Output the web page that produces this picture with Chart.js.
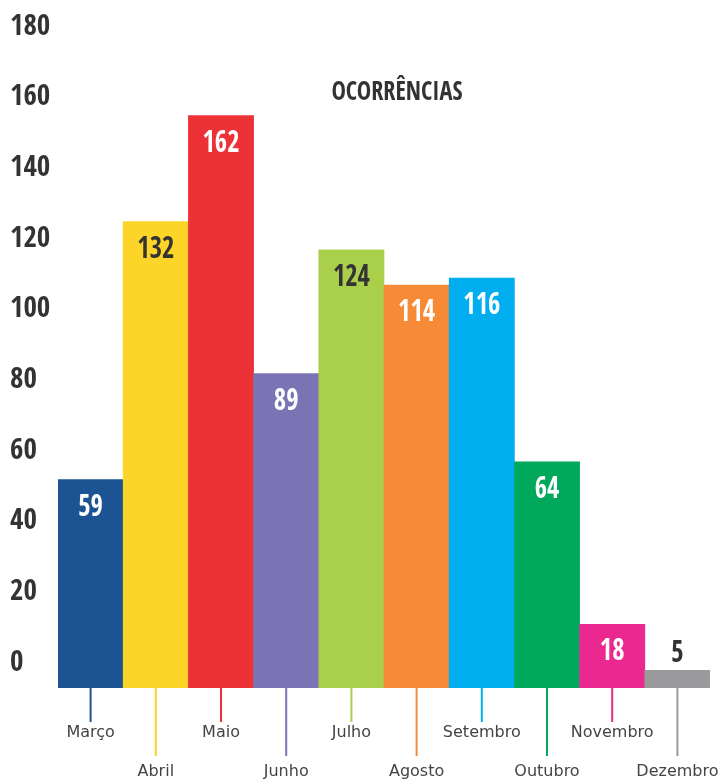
<!DOCTYPE html>
<html>
<head>
<meta charset="utf-8">
<script src="https://cdn.jsdelivr.net/npm/chart.js@4/dist/chart.umd.min.js"></script>
<style>
  html, body { margin: 0; padding: 0; background: #fff; overflow: hidden; }
  #wrap { width: 719px; height: 780px; position: relative; }
  #c { display: block; }
</style>
</head>
<body>
<div id="wrap"><canvas id="c"></canvas></div>
<script>
const categories = ['Março','Abril','Maio','Junho','Julho','Agosto','Setembro','Outubro','Novembro','Dezembro'];
const values = [59, 132, 162, 89, 124, 114, 116, 64, 18, 5];
const barColors = ['#1B5393','#FDD428','#EC3237','#7B74B4','#AACF4A','#F68A36','#00AEEF','#00A85B','#EB2890','#9A9A9C'];
const valueLabelColors = ['#fff','#333','#fff','#fff','#333','#fff','#fff','#fff','#fff','#333'];
const yTickValues = [0, 20, 40, 60, 80, 100, 120, 140, 160, 180];
const chartTitle = 'OCORRÊNCIAS';

const condensed = "'Open Sans Condensed', 'Roboto Condensed', 'DejaVu Sans Condensed', sans-serif";

function drawCondensed(ctx, text, x, y, size, color, sx) {
  ctx.save();
  ctx.font = 'bold ' + size + 'px ' + condensed;
  ctx.fillStyle = color;
  ctx.textAlign = 'center';
  ctx.textBaseline = 'middle';
  ctx.translate(x, y);
  ctx.scale(sx, 1);
  ctx.fillText(text, 0, 0);
  ctx.restore();
}

const extras = {
  id: 'extras',
  afterDatasetsDraw(chart) {
    const ctx = chart.ctx;
    const meta = chart.getDatasetMeta(0);
    const xs = chart.scales.x;
    const ys = chart.scales.y;
    const base = ys.getPixelForValue(0);
    categories.forEach((c, i) => {
      const px = xs.getPixelForValue(i);
      ctx.save();
      ctx.strokeStyle = barColors[i];
      ctx.lineWidth = 2;
      ctx.beginPath();
      ctx.moveTo(px, base);
      ctx.lineTo(px, base + (i % 2 ? 68 : 34));
      ctx.stroke();
      ctx.restore();
    });
    meta.data.forEach((bar, i) => {
      const v = values[i];
      let y = bar.y + 28;
      if (v < 10) y = bar.y - 16;
      drawCondensed(ctx, String(v), bar.x, y, 31, valueLabelColors[i], 0.86);
    });
    drawCondensed(ctx, chartTitle, 397, ys.getPixelForValue(168.4), 27, '#333', 0.9);
  }
};

new Chart(document.getElementById('c'), {
  type: 'bar',
  data: {
    labels: categories,
    datasets: [{
      data: values,
      backgroundColor: barColors,
      borderWidth: 0,
      barPercentage: 1,
      categoryPercentage: 1
    }]
  },
  options: {
    responsive: true,
    maintainAspectRatio: false,
    animation: false,
    layout: { padding: { top: 52, right: 9, left: 10, bottom: 0 } },
    plugins: { legend: { display: false }, tooltip: { enabled: false }, title: { display: false } },
    scales: {
      x: {
        grid: { display: false, drawTicks: false },
        border: { display: false },
        ticks: {
          autoSkip: false,
          maxRotation: 0,
          minRotation: 0,
          padding: 25,
          color: '#444',
          font: { family: "'DejaVu Sans', sans-serif", size: 16, lineHeight: 39 / 16 },
          callback: (v, i) => (i % 2 ? ['', categories[i]] : categories[i])
        },
        afterFit: (s) => { s.height = 92; s.paddingLeft = 0; s.paddingRight = 0; }
      },
      y: {
        min: 0,
        max: 180,
        afterBuildTicks: (s) => { s.ticks = yTickValues.map(v => ({ value: v })); },
        grid: { display: false, drawTicks: false },
        border: { display: false },
        ticks: {
          labelOffset: -25,
          crossAlign: 'far',
          color: '#333',
          padding: 0,
          font: { family: condensed, size: 29, weight: 'bold' }
        },
        afterFit: (s) => { s.width = 48; s.paddingTop = 0; s.paddingBottom = 0; }
      }
    }
  },
  plugins: [extras]
});
</script>
</body>
</html>
